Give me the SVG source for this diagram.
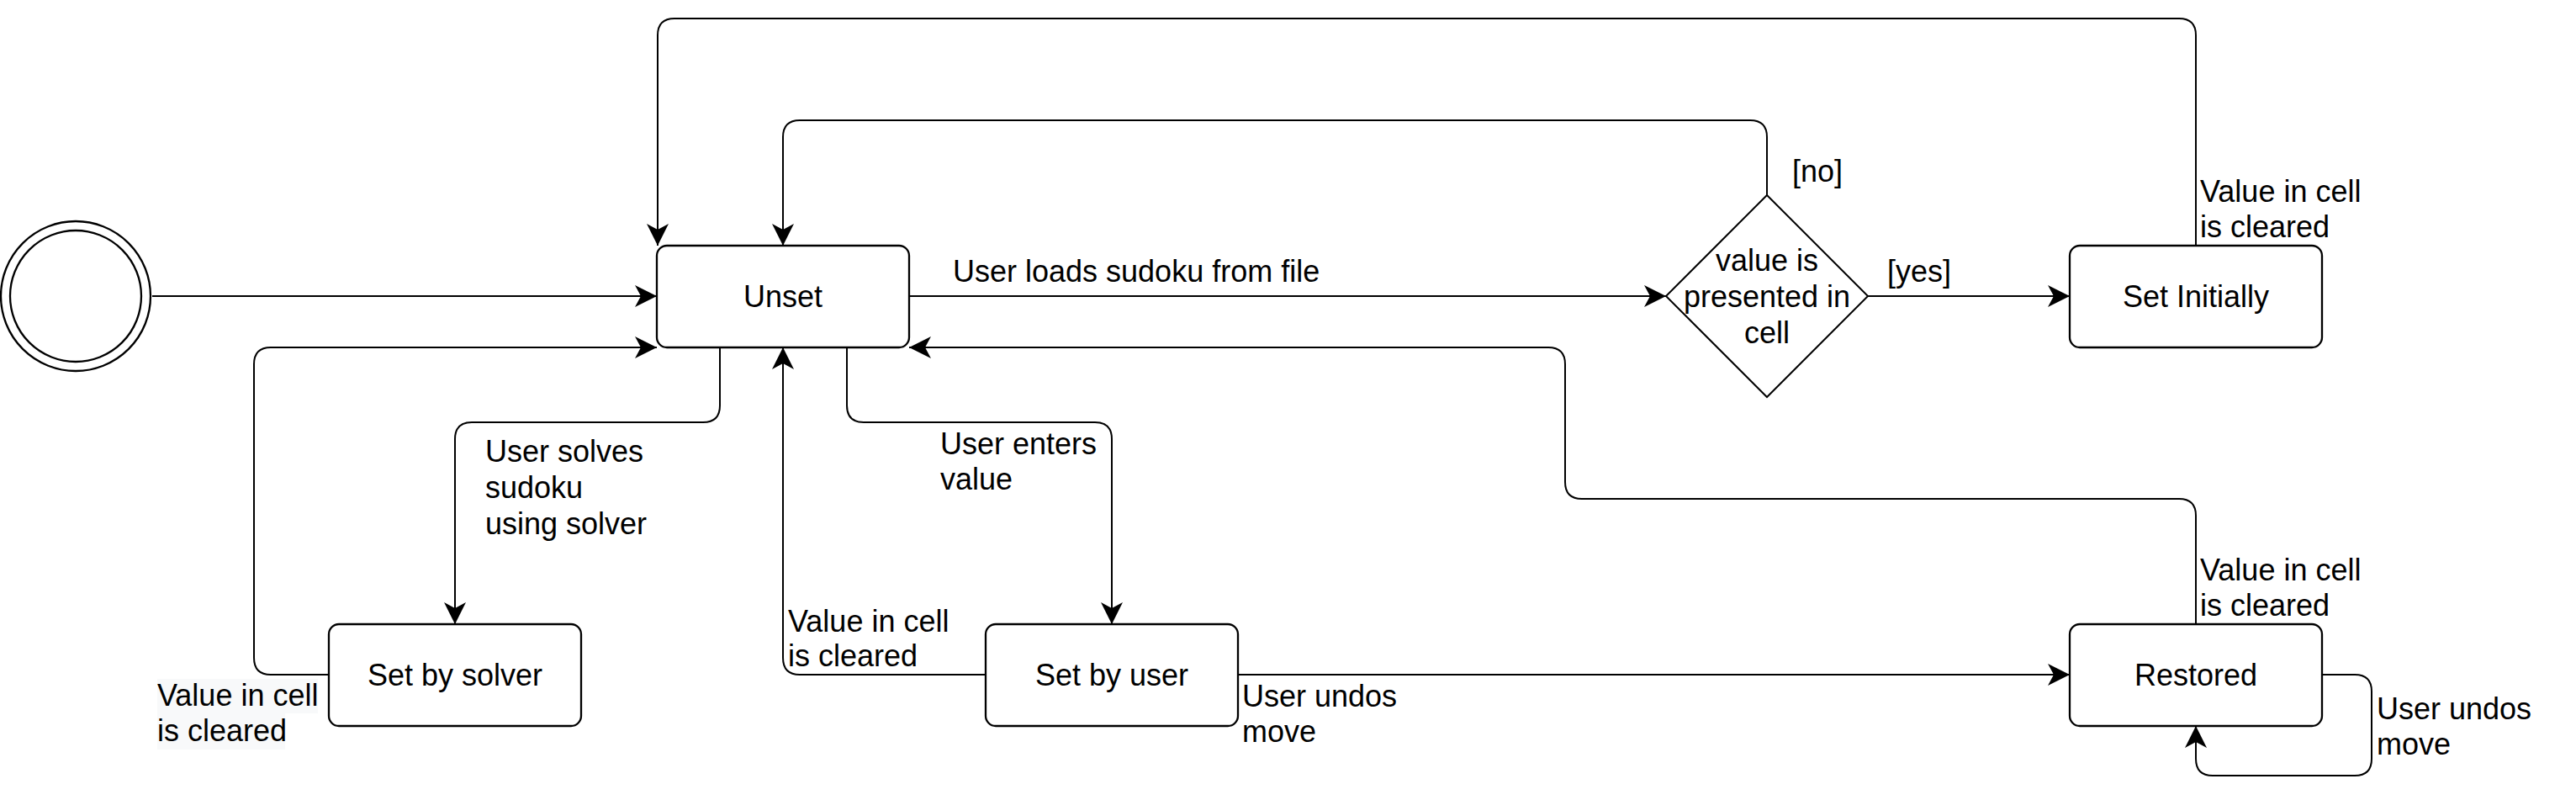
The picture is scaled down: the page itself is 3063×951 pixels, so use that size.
<svg xmlns="http://www.w3.org/2000/svg" width="3063" height="951" viewBox="0 0 3063 951">
<defs>
<style>
.node{fill:#ffffff;stroke:#000000;stroke-width:2.3}
.edge{fill:none;stroke:#000000;stroke-width:2}
.t{font-family:"Liberation Sans",Arial,sans-serif;font-size:36px;fill:#000000}
.c{text-anchor:middle}
.bg{fill:#f8f9fa}
</style>
<marker id="arr" markerUnits="userSpaceOnUse" markerWidth="26" markerHeight="26" viewBox="0 0 26 26" refX="26" refY="13" orient="auto">
<path d="M0,0 L26,13 L0,26 L7,13 Z" fill="#000000"/>
</marker>
</defs>
<rect width="3063" height="951" fill="#ffffff"/>

<g id="connectors">
<path class="edge" d="M181,352 H781" marker-end="url(#arr)"/>
<path class="edge" d="M1081,352 H1981" marker-end="url(#arr)"/>
<path class="edge" d="M2221,352 H2461" marker-end="url(#arr)"/>
<path class="edge" d="M2101,232 V163 Q2101,143 2081,143 H951 Q931,143 931,163 V292" marker-end="url(#arr)"/>
<path class="edge" d="M2611,292 V42 Q2611,22 2591,22 H802 Q782,22 782,42 V292" marker-end="url(#arr)"/>
<path class="edge" d="M856,413 V482 Q856,502 836,502 H561 Q541,502 541,522 V742" marker-end="url(#arr)"/>
<path class="edge" d="M391,802 H322 Q302,802 302,782 V433 Q302,413 322,413 H781" marker-end="url(#arr)"/>
<path class="edge" d="M1007,413 V482 Q1007,502 1027,502 H1302 Q1322,502 1322,522 V742" marker-end="url(#arr)"/>
<path class="edge" d="M1172,802 H951 Q931,802 931,782 V413" marker-end="url(#arr)"/>
<path class="edge" d="M1472,802 H2461" marker-end="url(#arr)"/>
<path class="edge" d="M2611,742 V613 Q2611,593 2591,593 H1881 Q1861,593 1861,573 V433 Q1861,413 1841,413 H1081" marker-end="url(#arr)"/>
<path class="edge" d="M2761,802 H2800 Q2820,802 2820,822 V902 Q2820,922 2800,922 H2631 Q2611,922 2611,902 V863" marker-end="url(#arr)"/>

<text class="t" x="1133" y="335">User loads sudoku from file</text>
<text class="t" x="2244" y="335">[yes]</text>
<text class="t" x="2131" y="216">[no]</text>
<text class="t" x="2616" y="240">Value in cell</text>
<text class="t" x="2616" y="282">is cleared</text>
<text class="t" x="577" y="549">User solves</text>
<text class="t" x="577" y="592">sudoku</text>
<text class="t" x="577" y="635">using solver</text>
<rect class="bg" x="187" y="807" width="191" height="41"/>
<rect class="bg" x="187" y="848" width="152" height="43"/>
<text class="t" x="187" y="839">Value in cell</text>
<text class="t" x="187" y="881">is cleared</text>
<text class="t" x="1118" y="540">User enters</text>
<text class="t" x="1118" y="582">value</text>
<text class="t" x="937" y="751">Value in cell</text>
<text class="t" x="937" y="792">is cleared</text>
<text class="t" x="1477" y="840">User undos</text>
<text class="t" x="1477" y="882">move</text>
<text class="t" x="2616" y="690">Value in cell</text>
<text class="t" x="2616" y="732">is cleared</text>
<text class="t" x="2826" y="855">User undos</text>
<text class="t" x="2826" y="897">move</text>
</g>

<g id="start">
<circle class="node" cx="90" cy="352" r="89"/>
<circle class="node" cx="90" cy="352" r="78"/>
</g>
<g id="unset">
<rect class="node" x="781" y="292" width="300" height="121" rx="12"/>
<text class="t c" x="931" y="365">Unset</text>
</g>
<g id="decision">
<polygon class="node" style="stroke-width:2" points="2101,232 2221,352 2101,472 1981,352"/>
<text class="t c" x="2101" y="322">value is</text>
<text class="t c" x="2101" y="365">presented in</text>
<text class="t c" x="2101" y="408">cell</text>
</g>
<g id="set-initially">
<rect class="node" x="2461" y="292" width="300" height="121" rx="12"/>
<text class="t c" x="2611" y="365">Set Initially</text>
</g>
<g id="set-by-solver">
<rect class="node" x="391" y="742" width="300" height="121" rx="12"/>
<text class="t c" x="541" y="815">Set by solver</text>
</g>
<g id="set-by-user">
<rect class="node" x="1172" y="742" width="300" height="121" rx="12"/>
<text class="t c" x="1322" y="815">Set by user</text>
</g>
<g id="restored">
<rect class="node" x="2461" y="742" width="300" height="121" rx="12"/>
<text class="t c" x="2611" y="815">Restored</text>
</g>
</svg>
